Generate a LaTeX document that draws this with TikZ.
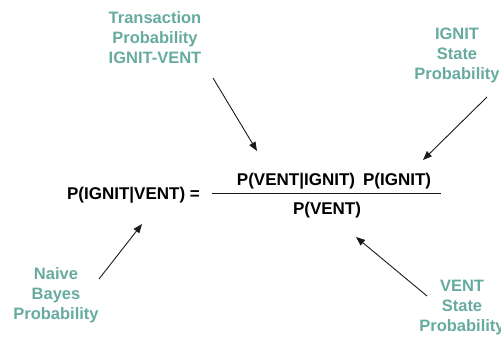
\documentclass[tikz,border=0pt]{standalone}
\usepackage{fontspec}
\setmainfont{Liberation Sans}
\usetikzlibrary{arrows.meta}
\definecolor{teal}{HTML}{67AB9F}
\definecolor{ink}{HTML}{1A1A1A}
\begin{document}
\begin{tikzpicture}[x=1pt,y=-1pt,
  note/.style={text=teal,font=\bfseries\fontsize{16.5}{20}\selectfont,align=center,inner sep=0pt},
  eq/.style={text=black,font=\bfseries\fontsize{17}{20}\selectfont,inner sep=0pt},
  pointer/.style={draw=ink,line width=0.9pt,-{Triangle[length=9pt,width=7pt]}}]
\useasboundingbox (0,0) rectangle (501,338);

% explanatory notes
\node[note] (trans) at (155,38) {Transaction\\Probability\\IGNIT-VENT};
\node[note] (ignit) at (457,55) {IGNIT\\State\\Probability};
\node[note] (naive) at (56,295) {Naive\\Bayes\\Probability};
\node[note] (vent)  at (462,308) {VENT\\State\\Probability};

% Bayes formula
\node[eq,anchor=east] (lhs) at (200,195) {P(IGNIT|VENT) =};
\node[eq] (num) at (334,181) {P(VENT|IGNIT)\hspace{8pt}P(IGNIT)};
\node[eq] (den) at (327,210) {P(VENT)};
\coordinate (barL) at (212,193);
\coordinate (barR) at (441,193);
\draw[ink,line width=0.9pt] (barL) -- (barR);

% pointer ends
\coordinate (t1) at (213,78);
\coordinate (h1) at (257,151);
\coordinate (t2) at (487,97);
\coordinate (h2) at (423,160);
\coordinate (t3) at (99,279);
\coordinate (h3) at (142,224);
\coordinate (t4) at (427,296);
\coordinate (h4) at (356,237);

\draw[pointer] (t1) -- (h1);
\draw[pointer] (t2) -- (h2);
\draw[pointer] (t3) -- (h3);
\draw[pointer] (t4) -- (h4);
\end{tikzpicture}
\end{document}
